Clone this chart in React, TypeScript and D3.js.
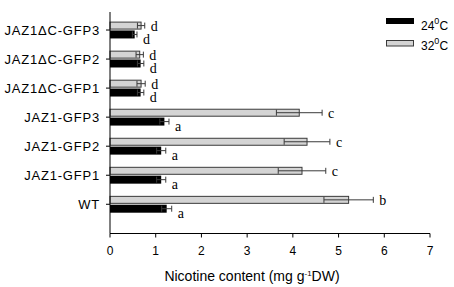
import React from "react";
import * as d3 from "d3";

const categories = ["JAZ1ΔC-GFP3", "JAZ1ΔC-GFP2", "JAZ1ΔC-GFP1", "JAZ1-GFP3", "JAZ1-GFP2", "JAZ1-GFP1", "WT"];
const t24 = [0.54, 0.67, 0.67, 1.19, 1.12, 1.12, 1.24];
const err24 = [0.05, 0.07, 0.07, 0.1, 0.1, 0.1, 0.11];
const t32 = [0.68, 0.65, 0.68, 4.14, 4.31, 4.2, 5.22];
const err32 = [0.08, 0.08, 0.09, 0.5, 0.5, 0.52, 0.54];
const letters24 = ["d", "d", "d", "a", "a", "a", "a"];
const letters32 = ["d", "d", "d", "c", "c", "c", "b"];
const xTicks = [0, 1, 2, 3, 4, 5, 6, 7];
const seriesKeys = ["32", "24"];

const W = 454;
const H = 287;

export default function App() {
  const x = d3.scaleLinear().domain([0, 7]).range([110, 430]);
  const y = d3
    .scaleBand<string>()
    .domain(categories)
    .range([9.4, 224.9])
    .padding(0.42);
  const sub = d3
    .scaleBand<string>()
    .domain(seriesKeys)
    .range([0, y.bandwidth()])
    .paddingInner(0.1);

  const axisTop = 12;
  const axisBottom = 233.5;
  const sans = "Arial, 'Liberation Sans', sans-serif";
  const serif = "'Times New Roman', 'Liberation Serif', serif";

  const series = [
    { key: "32", vals: t32, errs: err32, letters: letters32, fill: "#d4d4d4", stroke: "#3a3a3a", dyText: 9.5 },
    { key: "24", vals: t24, errs: err24, letters: letters24, fill: "#000", stroke: "none", dyText: 13.5 },
  ];

  return (
    <svg width={W} height={H} style={{ position: "absolute", left: 0, top: 0, background: "#fff" }}>
      {/* bars */}
      {series.map((s) => (
        <g key={s.key}>
          {categories.map((c, i) => {
            const y0 = (y(c) as number) + (sub(s.key) as number);
            const bh = sub.bandwidth();
            const cy = y0 + bh / 2;
            const v = s.vals[i];
            const e = s.errs[i];
            const capH = 6;
            return (
              <g key={c}>
                <rect
                  x={x(0)}
                  y={s.stroke === "none" ? y0 : y0 + 0.5}
                  width={x(v) - x(0)}
                  height={s.stroke === "none" ? bh : bh - 1}
                  fill={s.fill}
                  stroke={s.stroke}
                  strokeWidth={1}
                />
                <g stroke="#3a3a3a" strokeWidth={1}>
                  <line x1={x(v - e)} x2={x(v + e)} y1={cy} y2={cy} />
                  <line x1={x(v - e)} x2={x(v - e)} y1={cy - capH / 2} y2={cy + capH / 2} />
                  <line x1={x(v + e)} x2={x(v + e)} y1={cy - capH / 2} y2={cy + capH / 2} />
                </g>
                <text
                  x={x(v + e) + 6}
                  y={y0 + s.dyText}
                  fontFamily={serif}
                  fontSize={14}
                  fill="#000"
                >
                  {s.letters[i]}
                </text>
              </g>
            );
          })}
        </g>
      ))}

      {/* y axis */}
      <line x1={110} x2={110} y1={axisTop} y2={axisBottom} stroke="#000" strokeWidth={1} />
      {categories.map((c) => {
        const cy = (y(c) as number) + y.bandwidth() / 2;
        return (
          <g key={c}>
            <line x1={106} x2={110} y1={cy} y2={cy} stroke="#000" />
            <text
              x={100}
              y={cy + 4.5}
              textAnchor="end"
              fontFamily={sans}
              fontSize={13}
              letterSpacing={0.8}
              fill="#000"
            >
              {c}
            </text>
          </g>
        );
      })}

      {/* x axis */}
      <line x1={x(0)} x2={x(7)} y1={axisBottom} y2={axisBottom} stroke="#000" strokeWidth={1} />
      {xTicks.map((t) => (
        <g key={t}>
          <line x1={x(t)} x2={x(t)} y1={axisBottom} y2={axisBottom + 4} stroke="#000" />
          <text x={x(t)} y={254.5} textAnchor="middle" fontFamily={sans} fontSize={12} fill="#000">
            {t}
          </text>
        </g>
      ))}
      <text x={252} y={281} textAnchor="middle" fontFamily={sans} fontSize={14} fill="#000">
        Nicotine content (mg g
        <tspan fontSize={8} dy={-5}>-1</tspan>
        <tspan dy={5}>DW)</tspan>
      </text>

      {/* legend */}
      <rect x={386} y={18} width={28} height={6} fill="#000" />
      <rect x={386.5} y={40.5} width={27} height={5.5} fill="#d4d4d4" stroke="#3a3a3a" />
      <text x={421} y={30} fontFamily={sans} fontSize={12} fill="#000">
        24<tspan fontSize={9} dy={-6}>0</tspan>
        <tspan dy={6}>C</tspan>
      </text>
      <text x={421} y={49.5} fontFamily={sans} fontSize={12} fill="#000">
        32<tspan fontSize={9} dy={-6}>0</tspan>
        <tspan dy={6}>C</tspan>
      </text>
    </svg>
  );
}
